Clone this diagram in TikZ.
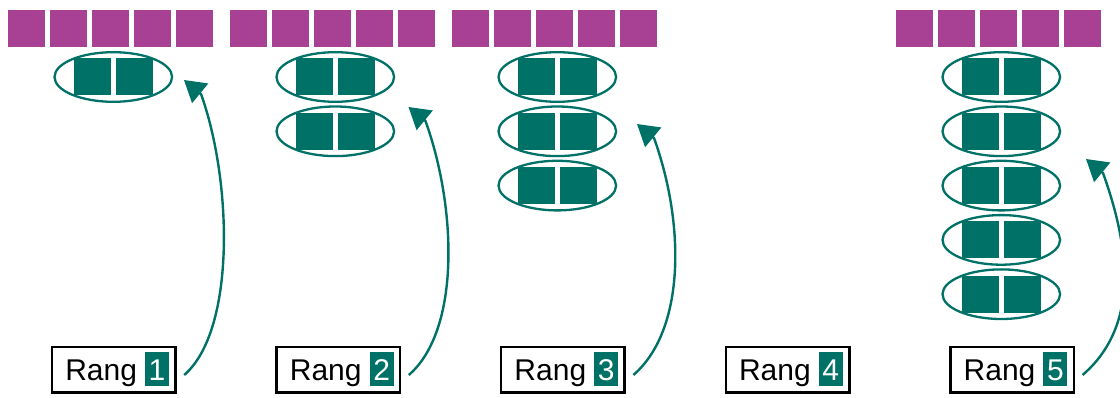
\documentclass[tikz,border=0pt]{standalone}
\usepackage{fontspec}
\setmainfont{Liberation Sans}
\usetikzlibrary{arrows.meta,calc}
\definecolor{lila}{RGB}{168,64,148}
\definecolor{petrol}{RGB}{0,113,103}
\newcommand{\numbox}[1]{{\color{petrol}\rule[-6pt]{24pt}{34pt}}\llap{\makebox[24pt]{\color{white}#1}}}
\newcommand{\rangtext}[1]{\hbox to 123.5pt{\hfil Rang\hspace{8pt}\numbox{#1}\hspace{6.45pt}}}
\tikzset{
  rangbox/.style={draw=black, line width=2.5pt, minimum width=123.5pt, minimum height=45.5pt,
    inner sep=0pt, font=\fontsize{30}{30}\selectfont},
  pair/.style={draw=petrol, line width=2.3pt},
  conn/.style={draw=petrol, line width=2.4pt, -{Triangle[length=21pt,width=25pt]}},
}
\begin{document}
\begin{tikzpicture}[x=1pt,y=-1pt]
\useasboundingbox (0,0) rectangle (1120,398);
% purple rows
\foreach \g in {0,1,2,4}{
  \foreach \k in {0,...,4}{
    \fill[lila] ({8+222*\g+42*\k},10) rectangle +(37,37);
  }
}
% ellipse stacks
\foreach \g/\n in {0/1,1/2,2/3,4/5}{
  \foreach \j in {1,...,\n}{
    \pgfmathsetmacro{\cx}{113.3+222*\g}
    \pgfmathsetmacro{\cy}{77+54.3*(\j-1)}
    \draw[pair] (\cx,\cy) ellipse [x radius=58.8, y radius=24.8];
    \fill[petrol] ({\cx-39.5},{\cy-18.5}) rectangle +(37,37);
    \fill[petrol] ({\cx+2.5},{\cy-18.5}) rectangle +(37,37);
  }
}
% rank boxes
\node[rangbox] (r1) at (113.7,369.5) {\rangtext{1}};
\node[rangbox] (r2) at (338.3,369.5) {\rangtext{2}};
\node[rangbox] (r3) at (562.9,369.5) {\rangtext{3}};
\node[rangbox] (r4) at (787.5,369.5) {\rangtext{4}};
\node[rangbox] (r5) at (1012.1,369.5) {\rangtext{5}};
% arrow tips
\coordinate (t1) at (184,80);
\coordinate (t2) at (408.5,107);
\coordinate (t3) at (637,124);
\coordinate (t5) at (1086,159);
\foreach \i in {1,2,3,5}{
  \draw[conn] ($(r\i.east)+(7.5,5.5)$) .. controls +(52,-45) and +(31,86) .. ($(t\i)+(17,14)$) -- (t\i);
}
\end{tikzpicture}
\end{document}
